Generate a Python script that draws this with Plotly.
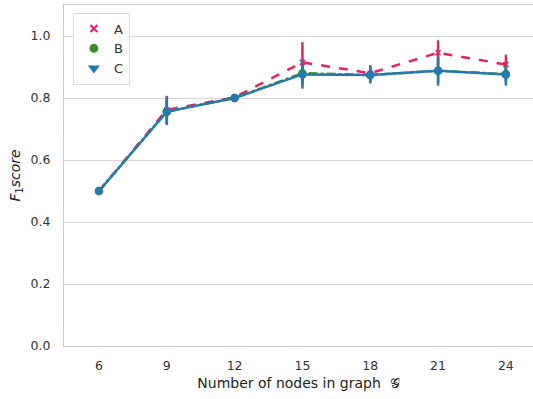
import plotly.graph_objects as go

nodes = ["6", "9", "12", "15", "18", "21", "24"]

a_mean = [0.500, 0.762, 0.802, 0.915, 0.880, 0.946, 0.908]
a_hi = [0.006, 0.045, 0.006, 0.065, 0.022, 0.040, 0.032]
a_lo = [0.006, 0.045, 0.006, 0.060, 0.022, 0.040, 0.032]

b_mean = [0.500, 0.756, 0.800, 0.880, 0.874, 0.888, 0.877]
b_hi = [0.006, 0.040, 0.006, 0.040, 0.025, 0.040, 0.028]
b_lo = [0.006, 0.040, 0.006, 0.040, 0.025, 0.040, 0.028]

c_mean = [0.500, 0.756, 0.800, 0.876, 0.874, 0.888, 0.876]
c_hi = [0.006, 0.048, 0.006, 0.050, 0.032, 0.046, 0.030]
c_lo = [0.006, 0.043, 0.006, 0.046, 0.027, 0.048, 0.036]

series = [
    ("A", a_mean, a_hi, a_lo, "#e3245f", "dash", "x-thin", 5),
    ("B", b_mean, b_hi, b_lo, "#3b8f2c", "dashdot", "circle", 7),
    ("C", c_mean, c_hi, c_lo, "#2579ad", "solid", "circle", 7),
]
legend_symbols = {"A": "x-thin", "B": "circle", "C": "triangle-down"}

fig = go.Figure()
xi = list(range(len(nodes)))
for name, m, hi, lo, col, dash, sym, sz in series:
    fig.add_trace(go.Scatter(
        x=xi, y=m, mode="lines+markers", showlegend=False,
        line=dict(color=col, width=2.5, dash=dash),
        marker=dict(color=col, size=sz, symbol=sym,
                    line=dict(color=col, width=1.5)),
        error_y=dict(type="data", symmetric=False, array=hi, arrayminus=lo,
                     color=col, thickness=2.5, width=0),
    ))
# legend entries show markers only
for name, m, hi, lo, col, dash, sym, sz in series:
    fig.add_trace(go.Scatter(
        x=[None], y=[None], mode="markers", name=name,
        marker=dict(color=col, size=7, symbol=legend_symbols[name],
                    line=dict(color=col, width=2)),
    ))

fig.update_layout(
    width=533, height=399,
    margin=dict(l=64, r=0, t=5, b=53),
    paper_bgcolor="white", plot_bgcolor="white",
    font=dict(family="DejaVu Sans", size=12, color="#333333"),
    showlegend=True,
    legend=dict(x=0.019, y=0.978, xanchor="left", yanchor="top",
                bordercolor="#d9d9d9", borderwidth=1, bgcolor="white",
                font=dict(size=13, color="#333333"), itemwidth=30,
                tracegroupgap=0),
)
fig.update_xaxes(
    range=[-0.516, 6.40], tickvals=xi, ticktext=nodes,
    showgrid=False, zeroline=False, showline=True, linecolor="#cccccc",
    linewidth=1.2, mirror=True, ticks="", ticklabelstandoff=8,
    tickfont=dict(size=12.5, color="#333333"),
    title=dict(text="Number of nodes in graph  𝒢", font=dict(size=14, color="#222222"),
               standoff=6),
)
fig.update_yaxes(
    range=[0, 1.1], tickvals=[0, 0.2, 0.4, 0.6, 0.8, 1.0],
    ticktext=["0.0", "0.2", "0.4", "0.6", "0.8", "1.0"],
    showgrid=True, gridcolor="#d6d6d6", gridwidth=1, zeroline=False,
    showline=True, linecolor="#cccccc", linewidth=1.2, mirror=True,
    ticks="", ticklabelstandoff=10, tickfont=dict(size=12.5, color="#333333"),
    title=dict(text="<i>F</i><sub>1</sub><i>score</i>",
               font=dict(size=14, color="#222222"), standoff=6),
)

fig.write_html("out.html")
